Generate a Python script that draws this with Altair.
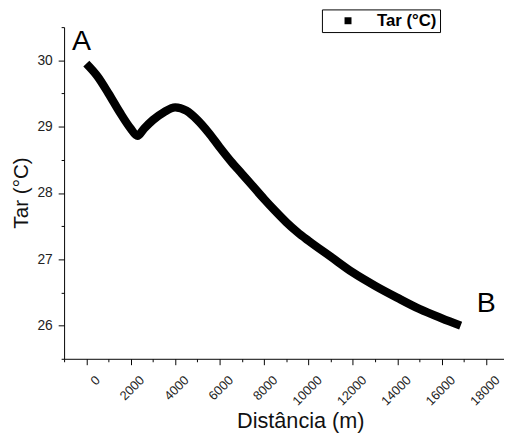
import altair as alt
import pandas as pd

# Distance along transect (m) and air temperature (°C)
dist = [0, 500, 1000, 1500, 2000, 2300, 2600, 3000, 3500, 4000, 4500, 5000,
        5500, 6000, 6500, 7000, 7500, 8000, 8500, 9000, 9500, 10000, 11000,
        12000, 13000, 14000, 15000, 16000, 16850]
tar = [29.95, 29.76, 29.50, 29.22, 28.97, 28.86, 28.97, 29.10, 29.22, 29.29,
       29.24, 29.10, 28.91, 28.69, 28.48, 28.29, 28.10, 27.91, 27.73, 27.56,
       27.41, 27.28, 27.04, 26.80, 26.60, 26.42, 26.25, 26.11, 26.00]
series_name = "Tar (°C)"

# Point labels A (start) and B (end)
pt_labels = ["A", "B"]
pt_x = [-220, 18000]
pt_y = [30.29, 26.34]

x_major = list(range(0, 19000, 2000))
x_minor = list(range(-1000, 19000, 2000))
y_major = [26, 27, 28, 29, 30]
y_minor = [25.5, 26.5, 27.5, 28.5, 29.5, 30.5]

df = pd.DataFrame({"dist": dist, "tar": tar, "serie": [series_name] * len(dist)})
df_lbl = pd.DataFrame({"lbl": pt_labels, "x": pt_x, "y": pt_y})

FONT = "Liberation Sans"

xscale = alt.Scale(domain=[-1000, 18800], nice=False, zero=False)
yscale = alt.Scale(domain=[25.5, 30.5], nice=False, zero=False)

x_axis = alt.Axis(
    orient="bottom", values=x_major, format="d",
    labelAngle=-45, labelAlign="right", labelBaseline="top",
    labelPadding=9, labelOffset=7,
    labelOverlap=False, labelFlush=False, labelBound=False,
    labelFontSize=13, labelColor="#222",
    tickSize=6, tickColor="black", domainColor="black", grid=False,
    title="Distância (m)", titleFontSize=22, titleFontWeight="normal",
    titleColor="#111", titleX=240, titleY=70, titleAlign="center",
    titleBaseline="alphabetic",
)
y_axis = alt.Axis(
    orient="left", values=y_major, format="d",
    labelOverlap=False, labelFlush=False, labelBound=False,
    labelFontSize=14, labelColor="#222", labelPadding=6,
    tickSize=6, tickColor="black", domainColor="black", grid=False,
    title="Tar (°C)", titleFontSize=21, titleFontWeight="normal",
    titleColor="#111", titleAngle=270, titleX=-43, titleY=168,
    titleAlign="center", titleBaseline="middle",
)
x_axis_minor = alt.Axis(orient="bottom", values=x_minor, labels=False,
                        domain=False, tickSize=3, tickColor="black",
                        grid=False, title=None)
y_axis_minor = alt.Axis(orient="left", values=y_minor, labels=False,
                        domain=False, tickSize=3, tickColor="black",
                        grid=False, title=None)

line = alt.Chart(df).mark_line(
    strokeWidth=8.5, strokeCap="butt", strokeJoin="round", interpolate="monotone"
).encode(
    x=alt.X("dist:Q", scale=xscale, axis=x_axis),
    y=alt.Y("tar:Q", scale=yscale, axis=y_axis),
    color=alt.Color(
        "serie:N",
        scale=alt.Scale(domain=[series_name], range=["black"]),
        legend=alt.Legend(
            title=None, orient="none", legendX=262, legendY=-18,
            symbolType="square", symbolSize=50, symbolFillColor="black",
            symbolStrokeColor="black", symbolStrokeWidth=0,
            symbolOffset=15, labelOffset=21,
            labelFontSize=17, labelFontWeight="bold", labelColor="black",
            strokeColor="black", padding=3, fillColor="white",
        ),
    ),
)

minor = alt.Chart(df).mark_point(opacity=0).encode(
    x=alt.X("dist:Q", scale=xscale, axis=x_axis_minor),
    y=alt.Y("tar:Q", scale=yscale, axis=y_axis_minor),
)

letters = alt.Chart(df_lbl).mark_text(
    fontSize=29, font=FONT, color="black", align="center", baseline="middle"
).encode(
    x=alt.X("x:Q", scale=xscale, axis=None),
    y=alt.Y("y:Q", scale=yscale, axis=None),
    text="lbl:N",
)

chart = alt.layer(line, minor, letters).resolve_axis(
    x="independent", y="independent"
).properties(
    width=447, height=337,
    autosize=alt.AutoSizeParams(type="none"),
    padding={"left": 57, "top": 16, "right": 0, "bottom": 75},
).configure(font=FONT).configure_view(stroke=None).configure_axis(
    labelFont=FONT, titleFont=FONT
).configure_legend(labelFont=FONT)

chart.save("out.html", embed_options={"renderer": "svg", "actions": False})
